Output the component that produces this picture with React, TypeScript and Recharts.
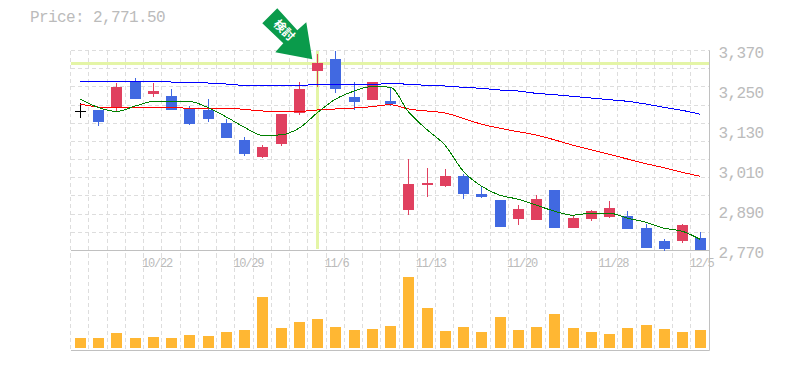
import React from "react";
import { Bar, CartesianGrid, ComposedChart, Line, ReferenceDot, ReferenceLine, XAxis, YAxis } from "recharts";

// daily data
const dates = ["10/16", "10/17", "10/20", "10/21", "10/22", "10/23", "10/24", "10/27", "10/28", "10/29", "10/30", "10/31", "11/4", "11/5", "11/6", "11/7", "11/10", "11/11", "11/12", "11/13", "11/14", "11/17", "11/18", "11/19", "11/20", "11/21", "11/25", "11/26", "11/27", "11/28", "12/1", "12/2", "12/3", "12/4", "12/5"];
const opens = [3188.5, 3192, 3198, 3278, 3240, 3233, 3194, 3191, 3152, 3101, 3050, 3089, 3182, 3308, 3344, 3230, 3221, 3218, 2891, 2966, 2963, 2993, 2939, 2921, 2864, 2861, 2951, 2837, 2864, 2870, 2873, 2837, 2798, 2798, 2807];
const closes = [3188.5, 3156, 3260, 3224, 3248, 3191, 3150, 3164, 3107, 3059, 3080, 3179, 3254, 3332, 3254, 3215, 3275, 3209, 2969, 2972, 2993, 2939, 2930, 2840, 2894, 2924, 2837, 2867, 2888, 2897, 2834, 2777, 2774, 2846, 2771.5];
const highs = [3212.5, 3192, 3272, 3288, 3272, 3254, 3203, 3224, 3164, 3110, 3086, 3179, 3275, 3359, 3370, 3275, 3275, 3257, 3044, 3017, 3014, 2999, 2963, 2921, 2906, 2936, 2951, 2876, 2891, 2918, 2888, 2849, 2804, 2849, 2825];
const lows = [3167.5, 3144, 3188, 3224, 3230, 3191, 3146, 3155, 3107, 3053, 3047, 3083, 3176, 3260, 3242, 3191, 3221, 3203, 2876, 2930, 2960, 2924, 2927, 2840, 2846, 2861, 2837, 2837, 2858, 2867, 2834, 2777, 2768, 2792, 2771.5];
const volumes = [100, 100, 150, 100, 110, 100, 130, 120, 160, 180, 510, 200, 260, 290, 210, 180, 190, 220, 710, 400, 170, 210, 160, 310, 180, 210, 340, 200, 160, 140, 200, 230, 190, 160, 180];
const maShort = [3224.5, 3199, 3187, 3203, 3217, 3218, 3217, 3199, 3171, 3140, 3115, 3117, 3137, 3183, 3224, 3248, 3262, 3260, 3186, 3133, 3086, 3008, 2963, 2936, 2924, 2906, 2888, 2876, 2882, 2882, 2867, 2855, 2837, 2828, 2803];
const maMid = [3209.5, 3200.5, 3198.5, 3199.5, 3199.5, 3199.5, 3196.5, 3196.5, 3196.5, 3193.5, 3188.5, 3187.5, 3187.5, 3191.5, 3194.5, 3197.5, 3201.5, 3207.5, 3194.5, 3188.5, 3182.5, 3166.5, 3149, 3137, 3126.5, 3116.5, 3102, 3086, 3072.5, 3058.5, 3044.5, 3030.5, 3018.5, 3004.5, 2992.5];
const maLong = [3278.5, 3278.5, 3278.5, 3278.5, 3278.5, 3275.5, 3275.5, 3272.5, 3269.5, 3265.5, 3265.5, 3265.5, 3265.5, 3267.5, 3267.5, 3267.5, 3267.5, 3271.5, 3268.5, 3265.5, 3263.5, 3259.5, 3256.5, 3251.5, 3248.5, 3241.5, 3237.5, 3232.5, 3227.5, 3222.5, 3217.5, 3209.5, 3199.5, 3190.5, 3178.5];

const priceTicks = [3370, 3250, 3130, 3010, 2890, 2770];
const priceGrid = [3370, 3315.5, 3261, 3206.5, 3152, 3097.5, 3043, 2988.5, 2934, 2879.5, 2825, 2770.5];
const dateTicks = ["10/22", "10/29", "11/6", "11/13", "11/20", "11/28", "12/5"];
const lastPrice = "2,771.50";
const markedDate = "11/5";
const markedPrice = 3332;
const markedHigh = 3359;

const chartData = dates.map((date, i) => ({
  date,
  open: opens[i],
  close: closes[i],
  range: [lows[i], highs[i]],
  volume: volumes[i],
  maShort: maShort[i],
  maMid: maMid[i],
  maLong: maLong[i],
}));

const MONO = '"Liberation Mono", monospace';
const UP = "#e0405f";
const DOWN = "#4169e1";

const Candle = (props: any) => {
  const { x, y, width, height, payload } = props;
  const [low, high] = payload.range;
  const perUnit = height / (high - low);
  const top = y + (high - Math.max(payload.open, payload.close)) * perUnit;
  const bottom = y + (high - Math.min(payload.open, payload.close)) * perUnit;
  const color = payload.open === payload.close ? "#000" : payload.close > payload.open ? UP : DOWN;
  const left = Math.round(x);
  const mid = left + Math.floor(width / 2);
  return (
    <g shapeRendering="crispEdges">
      <rect x={mid} y={y} width={1} height={height} fill={color} />
      <rect x={left} y={top} width={width} height={Math.max(bottom - top, 1)} fill={color} />
    </g>
  );
};

// arrow pointing down at the marked candle, drawn relative to its high
const MarkArrow = ({ cx, cy }: any) => (
  <g transform={`translate(${cx},${cy})`}>
    <polygon points="-40,-46 -55,-31 -34,-11 -42,-2 -5,5 -11,-32 -20,-24" fill="#0a9b4b" />
    <text transform="translate(-33,-24) rotate(45)" textAnchor="middle" dy="0.35em" fontFamily='"Noto Sans CJK JP"' fontSize={12} fontWeight={700} fill="#fff">
      検討
    </text>
  </g>
);

const PriceTick = ({ x, y, payload }: any) => (
  <text x={x + 1} y={y + 7.5} fontFamily={MONO} fontSize={16} letterSpacing={-0.6} fill="#bbb">
    {payload.value.toLocaleString("en-US")}
  </text>
);

const DateTick = ({ x, y, payload }: any) => (
  <text x={x - 11} y={y - 92} fontFamily={MONO} fontSize={12} letterSpacing={-1.2} fill="#bbb">
    {payload.value}
  </text>
);

const gridColumns = ({ offset }: any) =>
  Array.from({ length: 36 }, (_, i) => Math.round(offset.left + (i * offset.width) / 35 - 0.8) + 0.5);

export default function App() {
  return (
    <div style={{ position: "absolute", left: 0, top: 0, width: 785, height: 370 }}>
      <div style={{ position: "absolute", left: 30, top: 10, fontFamily: MONO, fontSize: 16, letterSpacing: -0.6, color: "#bbb", whiteSpace: "pre", lineHeight: "17px" }}>
        Price: {lastPrice}
      </div>
      <ComposedChart width={785} height={370} data={chartData} margin={{ top: 50.5, right: 0, bottom: 0, left: 71 }} barCategoryGap={0}>
        <CartesianGrid yAxisId="price" stroke="#ddd" strokeDasharray="4 3" shapeRendering="crispEdges" horizontalValues={priceGrid} verticalCoordinatesGenerator={gridColumns} />
        <XAxis dataKey="date" height={19.5} ticks={dateTicks} interval={0} axisLine={{ stroke: "#c0c0c0" }} tickLine={false} tick={DateTick} />
        <XAxis xAxisId="vol" dataKey="date" hide />
        <YAxis yAxisId="price" orientation="right" width={75.5} domain={[2470, 3370]} ticks={priceTicks} interval={0} axisLine={{ stroke: "#c0c0c0" }} tickLine={false} tick={PriceTick} />
        <YAxis yAxisId="vol" hide domain={[-25, 2975]} />
        <ReferenceLine zIndex={50} yAxisId="price" y={2770} stroke="#c0c0c0" shapeRendering="crispEdges" />
        <ReferenceLine zIndex={50} yAxisId="price" y={markedPrice} stroke="#e4f5a6" strokeWidth={3} shapeRendering="crispEdges" />
        <ReferenceLine zIndex={50} yAxisId="price" segment={[{ x: markedDate, y: 3370 }, { x: markedDate, y: 2774 }]} stroke="#e4f5a6" strokeWidth={3} shapeRendering="crispEdges" />
        <Bar xAxisId="vol" yAxisId="vol" dataKey="volume" barSize={11} fill="#ffb733" shapeRendering="crispEdges" isAnimationActive={false} />
        <Line yAxisId="price" type="monotone" dataKey="maLong" stroke="#0000ff" strokeWidth={1} dot={false} shapeRendering="crispEdges" isAnimationActive={false} />
        <Line yAxisId="price" type="monotone" dataKey="maMid" stroke="#ff0000" strokeWidth={1} dot={false} shapeRendering="crispEdges" isAnimationActive={false} />
        <Bar yAxisId="price" dataKey="range" barSize={11} shape={Candle} isAnimationActive={false} />
        <Line yAxisId="price" type="monotone" dataKey="maShort" stroke="#008000" strokeWidth={1} dot={false} shapeRendering="crispEdges" isAnimationActive={false} />
        <ReferenceDot zIndex={2000} yAxisId="price" x={markedDate} y={markedHigh} r={0} shape={MarkArrow} ifOverflow="visible" />
      </ComposedChart>
    </div>
  );
}
